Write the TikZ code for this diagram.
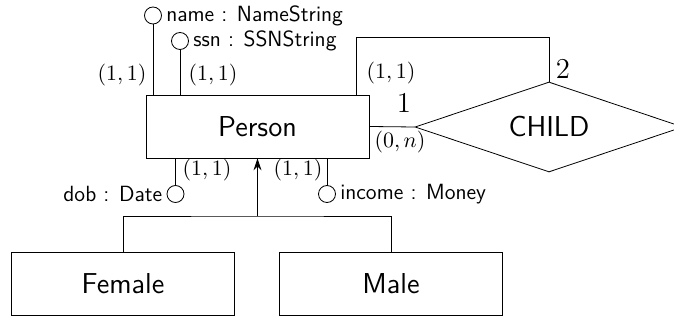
\documentclass[tikz,border=0pt]{standalone}
\usetikzlibrary{shapes.geometric,positioning,arrows.meta}
\tikzset{entbox/.style={
    rectangle,
    draw,
    font=\sffamily\Large,
    minimum width=111.5pt,
    minimum height=31.5pt
  },
  relbox/.style={diamond,draw,font=\sffamily\Large,aspect=3,
    minimum width=134pt,minimum height=45pt,inner sep=0pt},
  attr/.style={circle,draw,minimum size=8.5pt,inner sep=0pt},
  attrtext/.style={font=\sffamily\fontsize{11}{13}\selectfont,inner sep=2pt},
  card/.style={inner sep=1pt,font=\fontsize{11}{13}\selectfont},
  rolenum/.style={font=\Large,inner sep=1pt},
}
\begin{document}
\begin{tikzpicture}[x=0.5pt,y=-0.5pt]
  \useasboundingbox (0,0) rectangle (674,320);
  % entities
  \node [entbox] (person) at (257.5,126.5) {Person};
  \node [entbox] (female) at (123,283.5) {Female};
  \node [entbox] (male) at (391,283.5) {Male};
  \node [relbox] (child) at (549,127) {CHILD};
  % attributes
  \node [attr] (name) at (153,15.5) {};
  \node [attr] (ssn) at (180,41) {};
  \node [attr] (dob) at (175.5,194) {};
  \node [attr] (income) at (327,194) {};
  \node [attrtext,anchor=west] at (name.east) {name : NameString};
  \node [attrtext,anchor=west] at (ssn.east) {ssn : SSNString};
  \node [attrtext,anchor=east] at (dob.west) {dob : Date};
  \node [attrtext,anchor=west] at (income.east) {income : Money};
  \draw (person.north -| name) -- (name);
  \draw (person.north -| ssn) -- (ssn);
  \draw (person.south -| dob) -- (dob);
  \draw (person.south -| income) -- (income);
  % relationship
  \coordinate (loopa) at (356,37);
  \draw (person.north -| loopa) -- (loopa) -| (child.north);
  \draw (person.east) -- (child.west);
  % isa
  \coordinate (isa) at (257.5,216);
  \draw [-{Stealth[length=6pt,width=4pt]}] (isa) -- (person.south);
  \draw (female.north) |- (isa) -| (male.north);
  % cardinalities
  \node [card] at (122,75) {$(1,1)$};
  \node [card] at (213,75) {$(1,1)$};
  \node [card] at (391,73) {$(1,1)$};
  \node [card] at (400,142) {$(0,n)$};
  \node [card] at (207,170) {$(1,1)$};
  \node [card] at (298,170) {$(1,1)$};
  \node [rolenum] at (563,69) {2};
  \node [rolenum] at (404,103) {1};
\end{tikzpicture}
\end{document}
